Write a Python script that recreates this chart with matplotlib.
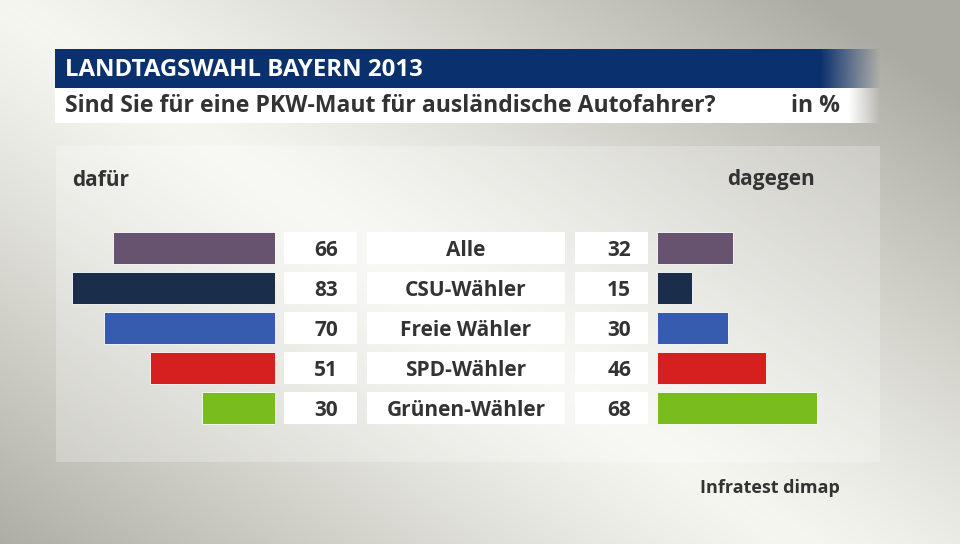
import matplotlib.pyplot as plt
import numpy as np
from matplotlib.patches import Rectangle

plt.rcParams['font.family'] = ['Open Sans', 'DejaVu Sans']

title = "LANDTAGSWAHL BAYERN 2013"
subtitle = "Sind Sie für eine PKW-Maut für ausländische Autofahrer?"
unit = "in %"
source = "Infratest dimap"

groups = ["Alle", "CSU-Wähler", "Freie Wähler", "SPD-Wähler", "Grünen-Wähler"]
dafuer = [66, 83, 70, 51, 30]
dagegen = [32, 15, 30, 46, 68]
colors = ["#67536f", "#1a2d4b", "#365caf", "#d61f1f", "#79bc1e"]

W, H = 960, 544
fig = plt.figure(figsize=(W / 100, H / 100), dpi=100)

# --- background in pixel coords ---
bg = fig.add_axes([0, 0, 1, 1])
bg.set_xlim(0, W)
bg.set_ylim(H, 0)
bg.axis("off")

xx, yy = np.meshgrid(np.arange(W), np.arange(H))
d = np.abs(xx * 544 - yy * 800) / np.hypot(800, 544)
t = np.clip(d / 460, 0, 1) ** 1.2
light = np.array([0.965, 0.965, 0.945])
dark = np.array([0.675, 0.672, 0.64])
img = light * (1 - t[..., None]) + dark * t[..., None]
bg.imshow(img, extent=(0, W, H, 0), aspect="auto", zorder=0)

# lighter panel behind the chart
bg.add_patch(Rectangle((56, 146), 824, 316, facecolor="white", alpha=0.25,
                       edgecolor="none", zorder=1))


def fade_bar(x0, x1, fade0, y0, y1, rgb):
    xs = np.arange(x0, x1)
    a = np.clip((x1 - xs) / (x1 - fade0), 0, 1)
    band = np.zeros((2, len(xs), 4))
    band[..., :3] = rgb
    band[..., 3] = a
    bg.imshow(band, extent=(x0, x1, y1, y0), aspect="auto", zorder=2,
              interpolation="bilinear")


fade_bar(55, 880, 820, 49, 88, (0.04, 0.19, 0.43))
fade_bar(55, 880, 848, 88, 123, (1, 1, 1))

txt = "#333333"
bg.text(65, 70, title, color="white", fontsize=17.3, fontweight="bold",
        va="center", ha="left", zorder=3)
bg.text(65, 106, subtitle, color=txt, fontsize=16.6, fontweight="bold",
        va="center", ha="left", zorder=3)
bg.text(840, 106, unit, color=txt, fontsize=16.6, fontweight="bold",
        va="center", ha="right", zorder=3)
bg.text(72, 180, "dafür", color=txt, fontsize=15, fontweight="bold",
        va="center", ha="left", zorder=3)
bg.text(815, 180, "dagegen", color=txt, fontsize=15, fontweight="bold",
        va="center", ha="right", zorder=3)
bg.text(840, 488, source, color=txt, fontsize=13, fontweight="bold",
        va="center", ha="right", zorder=3)

y = np.arange(len(groups))
row_top, row_h = 228, 40
fb = (H - row_top - row_h * len(groups)) / H
fh = row_h * len(groups) / H

# --- left bars (dafür) ---
axl = fig.add_axes([40 / W, fb, 235 / W, fh])
axl.barh(y, dafuer, height=0.8, color=colors, edgecolor="white", linewidth=0.6)
axl.set_xlim(96, 0)
axl.set_ylim(4.5, -0.5)
axl.axis("off")

# --- right bars (dagegen) ---
axr = fig.add_axes([657 / W, fb, 243 / W, fh])
axr.barh(y, dagegen, height=0.8, color=colors, edgecolor="white", linewidth=0.6)
axr.set_xlim(0, 243 / 2.36)
axr.set_ylim(4.5, -0.5)
axr.axis("off")

# --- middle: white boxes with numbers and labels ---
axm = fig.add_axes([275 / W, fb, 382 / W, fh])
axm.set_xlim(0, 382)
axm.set_ylim(4.5, -0.5)
axm.axis("off")
for left, width in [(9, 73), (92, 198), (300, 73)]:
    axm.barh(y, width, left=left, height=0.8, color="white", edgecolor="none")
for i in y:
    axm.text(63, i + 0.06, f"{dafuer[i]}", ha="right", va="center", fontsize=15,
             fontweight="bold", color=txt)
    axm.text(191, i + 0.06, groups[i], ha="center", va="center", fontsize=15,
             fontweight="bold", color=txt)
    axm.text(356, i + 0.06, f"{dagegen[i]}", ha="right", va="center", fontsize=15,
             fontweight="bold", color=txt)

fig.savefig("out.png", dpi=100)
